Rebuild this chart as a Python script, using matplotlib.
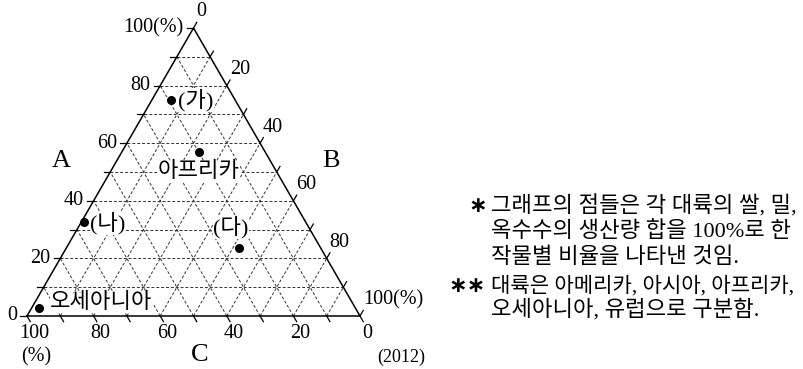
import matplotlib.pyplot as plt
import numpy as np

# ternary data (percent): A, B, C = 100 - A - B
regions = ['(가)', '아프리카', '(나)', '(다)', '오세아니아']
share_a = [75, 57, 32.5, 23.5, 2.7]
share_b = [5.7, 23.2, 1.0, 51.9, 2.4]

tick_vals = [0, 20, 40, 60, 80, 100]
a_labels = ['0', '20', '40', '60', '80', '100(%)']
b_labels = ['0', '20', '40', '60', '80', '100(%)']
c_labels = ['0', '20', '40', '60', '80', '100']

notes1 = ['그래프의 점들은 각 대륙의 쌀, 밀,', '옥수수의 생산량 합을 100%로 한', '작물별 비율을 나타낸 것임.']
notes2 = ['대륙은 아메리카, 아시아, 아프리카,', '오세아니아, 유럽으로 구분함.']

FAM = ['Liberation Serif', 'Noto Sans CJK KR']
plt.rcParams['font.family'] = FAM

# triangle in pixel space
X0, Y0, W, H = 27.0, 316.0, 333.0, 288.0


def tern(a, b):
    a = np.asarray(a, dtype=float)
    b = np.asarray(b, dtype=float)
    return X0 + W * (b + a / 2) / 100, Y0 - H * a / 100


fig = plt.figure(figsize=(8.04, 3.69), dpi=100)
ax = fig.add_axes([0, 0, 1, 1])
ax.set_xlim(0, 804)
ax.set_ylim(369, 0)
ax.axis('off')

grid_kw = dict(color='#333333', lw=0.7, ls=(0, (3, 2)), zorder=1)
for k in range(10, 100, 10):
    x, y = tern([k, k], [0, 100 - k])
    ax.plot(x, y, **grid_kw)
    x, y = tern([0, 100 - k], [k, k])
    ax.plot(x, y, **grid_kw)
    x, y = tern([0, 100 - k], [100 - k, 0])
    ax.plot(x, y, **grid_kw)

x, y = tern([0, 100, 0, 0], [0, 0, 100, 0])
ax.plot(x, y, color='black', lw=1.1, zorder=2, solid_joinstyle='miter')

# ticks
tl = 6.5
for k in range(0, 101, 10):
    x, y = tern(k, 0)
    ax.plot([x - tl, x], [y, y], color='black', lw=0.9, zorder=2)
    x, y = tern(100 - k, k)
    ax.plot([x, x + tl * 0.5], [y, y - tl * 0.866], color='black', lw=0.9, zorder=2)
    x, y = tern(0, 100 - k)
    ax.plot([x, x + tl * 0.5], [y, y + tl * 0.866], color='black', lw=0.9, zorder=2)

fs = 14.5
for v, lab in zip(tick_vals, a_labels):
    x, y = tern(v, 0)
    ax.text(x - 10, y, lab, ha='right', va='center', fontsize=fs)
for v, lab in zip(tick_vals, b_labels):
    x, y = tern(100 - v, v)
    ax.text(x + 3, y - 16, lab, ha='left', va='center', fontsize=fs)
for v, lab in zip(tick_vals, c_labels):
    x, y = tern(0, 100 - v)
    ax.text(x + 7, y + 18, lab, ha='center', va='center', fontsize=fs)
ax.text(36, 357, '(%)', ha='center', va='center', fontsize=fs)
ax.text(401, 357, '(2012)', ha='center', va='center', fontsize=13)

ax.text(61, 161, 'A', ha='center', va='center', fontsize=19)
ax.text(331, 161, 'B', ha='center', va='center', fontsize=19)
ax.text(200, 355, 'C', ha='center', va='center', fontsize=19)

# points
px, py = tern(share_a, share_b)
ax.scatter(px, py, s=30, color='black', zorder=4)

lab_pos = [(178, 100, 'left'), (199, 172, 'center'), (90, 223, 'left'),
           (213, 227, 'left'), (50, 303, 'left')]
for name, (lx, ly, ha) in zip(regions, lab_pos):
    ax.text(lx, ly, name, ha=ha, va='center', fontsize=16, zorder=3,
            bbox=dict(fc='white', ec='none', pad=0.3))

# footnotes
ax.text(478, 206, '∗', ha='center', va='center', fontsize=16, fontweight='bold',
        family='DejaVu Sans')
for i, line in enumerate(notes1):
    ax.text(491, 206 + i * 26, line, ha='left', va='center', fontsize=16)
ax.text(467, 286, '∗∗', ha='center', va='center', fontsize=16, fontweight='bold',
        family='DejaVu Sans')
for i, (line, size) in enumerate(zip(notes2, [15.2, 16])):
    ax.text(491, 286 + i * 24, line, ha='left', va='center', fontsize=size)

fig.savefig('out.png', dpi=100)
